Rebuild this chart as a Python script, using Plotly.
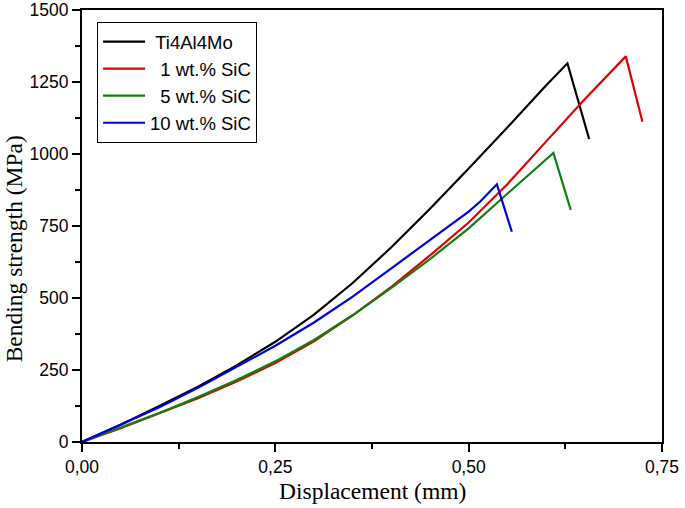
import plotly.graph_objects as go

# Displacement (mm) / Bending strength (MPa)
ti_x = [0.0, 0.05, 0.1, 0.15, 0.2, 0.25, 0.3, 0.35, 0.4, 0.45, 0.5, 0.55, 0.6, 0.6277, 0.6558]
ti_y = [0, 60, 125, 192, 266, 348, 442, 552, 676, 810, 950, 1092, 1238, 1315, 1052]

sic1_x = [0.0, 0.05, 0.1, 0.15, 0.2, 0.25, 0.3, 0.35, 0.4, 0.45, 0.5, 0.55, 0.6, 0.65, 0.7032, 0.7247]
sic1_y = [0, 48, 100, 152, 210, 274, 350, 440, 539, 648, 762, 895, 1043, 1190, 1339, 1112]

sic5_x = [0.0, 0.05, 0.1, 0.15, 0.2, 0.25, 0.3, 0.35, 0.4, 0.45, 0.5, 0.55, 0.6096, 0.632]
sic5_y = [0, 50, 101, 156, 215, 280, 354, 440, 535, 635, 742, 862, 1004, 806]

sic10_x = [0.0, 0.05, 0.1, 0.15, 0.2, 0.25, 0.3, 0.35, 0.4, 0.45, 0.5, 0.515, 0.5365, 0.5558]
sic10_y = [0, 60, 121, 188, 260, 334, 415, 505, 603, 702, 800, 835, 895, 730]

names = ["\u00a0Ti4Al4Mo", "\u00a0\u00a01 wt.% SiC", "\u00a0\u00a05 wt.% SiC", "10 wt.% SiC"]
colors = ["#000000", "#e00000", "#108010", "#0000e0"]
series = [(ti_x, ti_y), (sic1_x, sic1_y), (sic5_x, sic5_y), (sic10_x, sic10_y)]

fig = go.Figure()
for (xs, ys), name, col in zip(series, names, colors):
    fig.add_trace(go.Scatter(x=xs, y=ys, mode="lines", name=name,
                             line=dict(color=col, width=2.2)))

axis_common = dict(
    showgrid=False, zeroline=False, showline=True, linecolor="black", linewidth=2,
    mirror=True, ticks="outside", ticklen=8, tickwidth=1.5, tickcolor="black",
    automargin=False, ticklabeloverflow="allow",
    tickfont=dict(family="Liberation Sans, Arial, sans-serif", size=17.5, color="black"),
)

title_font = dict(family="Liberation Serif, Times New Roman, serif", size=23.5, color="black")

fig.update_layout(
    width=685, height=508,
    margin=dict(l=82, r=23, t=10, b=66),
    paper_bgcolor="white", plot_bgcolor="white",
    separators=",.",
    showlegend=True,
    legend=dict(x=0.026, y=0.972, xanchor="left", yanchor="top",
                bordercolor="black", borderwidth=1, bgcolor="white",
                font=dict(family="Liberation Sans, Arial, sans-serif", size=18.5, color="black"),
                tracegroupgap=0, itemwidth=42),
    xaxis=dict(range=[0, 0.75], tickvals=[0, 0.25, 0.5, 0.75], tickformat=".2f",
               minor=dict(ticks="outside", ticklen=5, tickwidth=1.5, tickcolor="black", dtick=0.125, tick0=0),
               **axis_common),
    yaxis=dict(range=[0, 1500], tickvals=[0, 250, 500, 750, 1000, 1250, 1500],
               minor=dict(ticks="outside", ticklen=5, tickwidth=1.5, tickcolor="black", dtick=125, tick0=0),
               **axis_common),
    annotations=[
        dict(text="Displacement (mm)", xref="paper", yref="paper", x=0.5, y=0,
             xanchor="center", yanchor="middle", yshift=-49, showarrow=False, font=title_font),
        dict(text="Bending strength (MPa)", xref="paper", yref="paper", x=0, y=0.446,
             xanchor="center", yanchor="middle", xshift=-68, textangle=-90, showarrow=False, font=title_font),
    ],
)

fig.write_html("out.html", config={"displayModeBar": False},
               post_script="document.body.style.margin='0px';")
